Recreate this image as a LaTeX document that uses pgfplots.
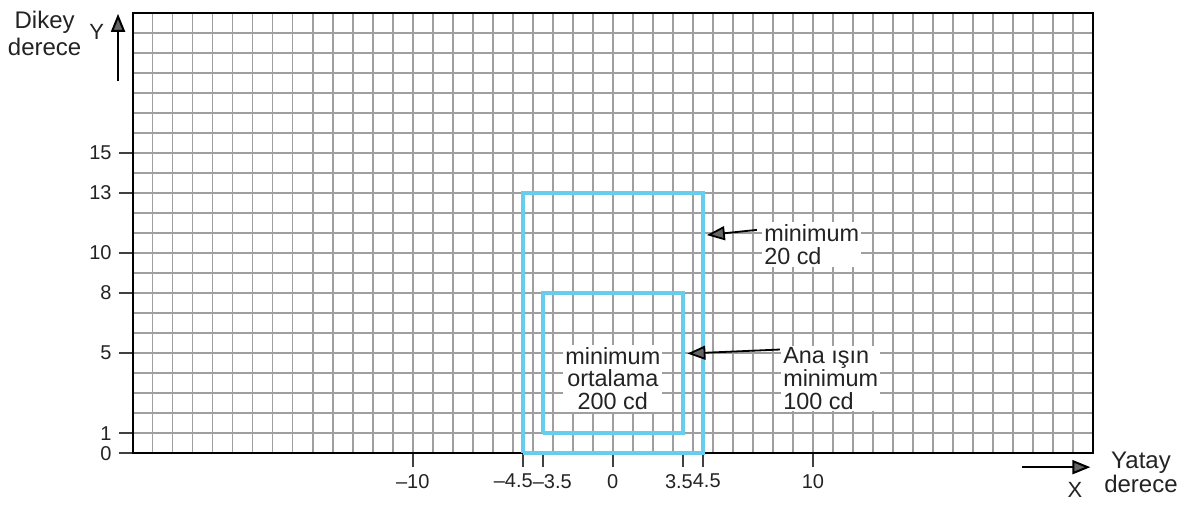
\documentclass[border=0pt]{standalone}
\usepackage{pgfplots}
\pgfplotsset{compat=1.18}
\usepackage{fontspec}
\setmainfont{Liberation Sans}
\usetikzlibrary{arrows.meta}
\definecolor{boxblue}{RGB}{102,206,236}
\definecolor{txt}{RGB}{35,35,35}

\begin{document}
\begin{tikzpicture}
\begin{axis}[
  scale only axis, width=480pt, height=220pt,
  xmin=-24, xmax=24, ymin=0, ymax=22,
  clip=false,
  axis line style={black, line width=0.9pt},
  xtick={-10,-4.5,-3.5,0,3.5,4.5,10},
  xticklabels={–10,
    {\makebox[0pt][r]{–4.5\kern-5pt}},
    {\makebox[0pt][l]{\kern-5pt–3.5}},
    0,
    {\makebox[0pt][r]{3.5\kern-5pt}},
    {\makebox[0pt][l]{\kern-5pt4.5}},
    10},
  ytick={0,1,5,8,10,13,15},
  yticklabels={0,1,5,8,10,13,15},
  minor xtick={-23,-22,...,23},
  minor ytick={1,2,...,21},
  xminorgrids=true, yminorgrids=true,
  minor grid style={gray!75, line width=0.8pt},
  minor tick length=0pt,
  major tick length=7pt,
  tick align=outside, xtick pos=bottom, ytick pos=left,
  major tick style={black!75, line width=0.8pt},
  tick label style={font=\fontsize{10}{12}\selectfont, text=txt},
]
% limit areas
\addplot[boxblue, line width=2pt, line join=miter] coordinates {(-4.5,0) (4.5,0) (4.5,13) (-4.5,13) (-4.5,0)};
\addplot[boxblue, line width=2pt, line join=miter] coordinates {(-3.5,1) (3.5,1) (3.5,8) (-3.5,8) (-3.5,1)};

% labels and arrows
\node[fill=white, inner sep=1pt, align=left, anchor=west, text=txt, font=\fontsize{11.7}{11.6}\selectfont] at (axis cs:7.45,10.43) {minimum\\20 cd};
\node[fill=white, inner sep=1pt, align=left, anchor=west, text=txt, font=\fontsize{11.7}{11.3}\selectfont] at (axis cs:8.4,3.73) {Ana ışın\\minimum\\100 cd};
\node[fill=white, inner sep=1pt, align=center, text=txt, font=\fontsize{11.7}{11.3}\selectfont] at (axis cs:0,3.73) {minimum\\ortalama\\200 cd};
\draw[line width=0.9pt, -{Triangle[length=9pt,width=7pt,fill=black!60]}] (axis cs:7.2,11.16) -- (axis cs:4.7,10.9);
\draw[line width=0.9pt, -{Triangle[length=9pt,width=7pt,fill=black!60]}] (axis cs:8.35,5.18) -- (axis cs:3.73,4.98);

\draw[line width=1pt, -{Triangle[length=9pt,width=7pt,fill=black!60]}] (axis cs:-24.73,18.6) -- (axis cs:-24.73,21.96);
\node[text=txt, font=\fontsize{12}{13.5}\selectfont, align=center] at (axis cs:-28.4,21.0) {Dikey\\derece};
\node[text=txt, font=\fontsize{11}{13}\selectfont] at (axis cs:-25.8,21.05) {Y};

\draw[line width=1pt, -{Triangle[length=9pt,width=7pt,fill=black!60]}] (axis cs:20.47,-0.7) -- (axis cs:23.87,-0.7);
\node[text=txt, font=\fontsize{12}{12}\selectfont, align=center] at (axis cs:26.4,-0.95) {Yatay\\derece};
\node[text=txt, font=\fontsize{11}{13}\selectfont] at (axis cs:23.1,-1.84) {X};

\path (axis cs:-30.63,-2.55) rectangle (axis cs:28.6,22.65);
\end{axis}
\end{tikzpicture}
\end{document}
